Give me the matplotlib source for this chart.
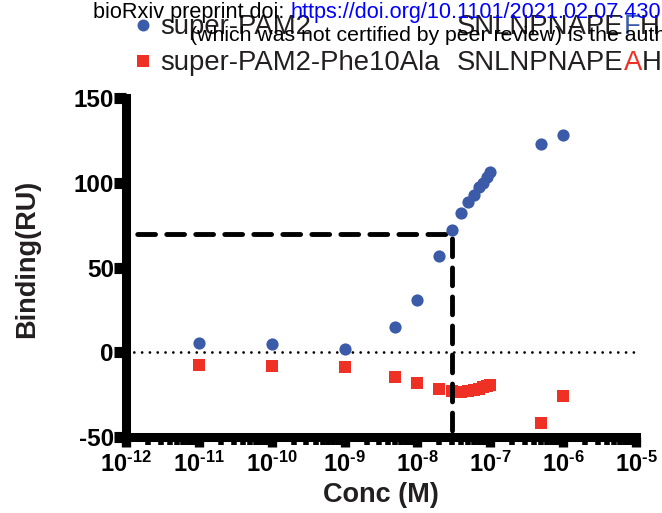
import matplotlib
matplotlib.use("Agg")
import matplotlib.pyplot as plt
from matplotlib.ticker import FixedLocator, FuncFormatter, LogLocator, NullFormatter
import numpy as np

# ---------------- data ----------------
conc = [1e-11, 1e-10, 1e-9, 5e-9, 1e-8, 2e-8, 3e-8, 4e-8, 5e-8, 6e-8,
        7e-8, 8e-8, 9e-8, 1e-7, 5e-7, 1e-6]
binding_pam2 = [5.4, 5.0, 1.9, 15.0, 31.0, 57.0, 72.2, 82.2, 88.5, 93.0,
                97.6, 100.2, 103.6, 106.6, 123.2, 128.5]
binding_phe10ala = [-7.3, -7.8, -8.9, -14.6, -18.2, -21.8, -23.0, -23.2,
                    -22.9, -22.4, -21.6, -20.7, -19.8, -19.0, -42.0, -26.0]
series_names = ["super-PAM2", "super-PAM2-Phe10Ala"]
seq_parts = [[("SNLNPNAPE", "#231F20"), ("F", "#3B5BA8"), ("H", "#231F20")],
             [("SNLNPNAPE", "#231F20"), ("A", "#EE3124"), ("H", "#231F20")]]
half_conc = 3e-8
half_binding = 70
x_ticks = [1e-12, 1e-11, 1e-10, 1e-9, 1e-8, 1e-7, 1e-6, 1e-5]
y_ticks = [-50, 0, 50, 100, 150]
x_label = "Conc (M)"
y_label = "Binding(RU)"
header_black = "bioRxiv preprint doi: "
header_url = "https://doi.org/10.1101/2021.02.07.4301"
header_line2 = "(which was not certified by peer review) is the author/funder"

BLUE = "#3B5BA8"
RED = "#EE3124"
DARK = "#231F20"

plt.rcParams["font.family"] = ["Liberation Sans", "DejaVu Sans"]
plt.rcParams["mathtext.fontset"] = "custom"
plt.rcParams["mathtext.rm"] = "Liberation Sans"
plt.rcParams["mathtext.bf"] = "Liberation Sans:bold"
plt.rcParams["mathtext.it"] = "Liberation Sans:italic"
plt.rcParams["font.weight"] = "bold"
plt.rcParams["axes.unicode_minus"] = False

W, H = 662, 513
fig = plt.figure(figsize=(W / 100, H / 100), dpi=100)
fig.patch.set_facecolor("white")

L, R = 126 / W, 636 / W
B, T = (H - 437) / H, (H - 98.3) / H
ax = fig.add_axes([L, B, R - L, T - B])
ax.set_xscale("log")
ax.set_xlim(x_ticks[0], x_ticks[-1])
ax.set_ylim(y_ticks[0], y_ticks[-1])

# zero line (dotted)
ax.plot([x_ticks[0], x_ticks[-1]], [0, 0], color="black", lw=2.0,
        linestyle=(0, (0.01, 2.8)), dash_capstyle="round", zorder=2)

# red squares
ax.plot(conc, binding_phe10ala, linestyle="none", marker="s", ms=8.6,
        mew=0, color=RED, zorder=3, clip_on=False)
# dashed guide lines
ax.plot([x_ticks[0], half_conc, half_conc], [half_binding, half_binding, y_ticks[0]],
        color="black", lw=3.5, linestyle=(3.66, (3.66, 2.31)),
        dash_capstyle="round", zorder=4)
# blue circles
ax.plot(conc, binding_pam2, linestyle="none", marker="o", ms=8.8,
        mew=0, color=BLUE, zorder=5, clip_on=False)

for s in ["top", "right"]:
    ax.spines[s].set_visible(False)
for s in ["left", "bottom"]:
    ax.spines[s].set_linewidth(6.5)
    ax.spines[s].set_capstyle("projecting")
    ax.spines[s].set_zorder(6)


def xfmt(v, p):
    e = int(round(np.log10(v)))
    sign = "\u2010" if e < 0 else ""
    return r"$\mathbf{10^{%s%d}}$" % (sign, abs(e))


ax.xaxis.set_major_locator(FixedLocator(x_ticks))
ax.xaxis.set_minor_locator(LogLocator(base=10, subs=np.arange(2, 10), numticks=20))
ax.xaxis.set_minor_formatter(NullFormatter())
ax.xaxis.set_major_formatter(FuncFormatter(xfmt))
ax.yaxis.set_major_locator(FixedLocator(y_ticks))

ax.tick_params(axis="y", which="major", length=8.3, width=8, pad=0.5,
               labelsize=17.5, direction="out", colors="black")
ax.tick_params(axis="x", which="major", length=7.2, width=6.7, pad=3.5,
               labelsize=17, direction="out")
ax.tick_params(axis="x", which="minor", length=5.6, width=4, direction="out")
for lbl in ax.get_yticklabels():
    lbl.set_fontweight("bold")

fig.text(27 / W, 1 - 259 / H, y_label, rotation=90, ha="center", va="center",
         fontsize=19.5, fontweight="bold", color=DARK)
fig.text(381 / W, 1 - 495 / H, x_label, ha="center", va="center",
         fontsize=19.5, fontweight="bold", color=DARK)

# overlay for legend / header in pixel coordinates
lax = fig.add_axes([0, 0, 1, 1])
lax.set_xlim(0, W)
lax.set_ylim(H, 0)
lax.axis("off")
lax.patch.set_visible(False)

legend_rows = [(34, "o", BLUE), (70, "s", RED)]
for (base, mk, col), name, parts in zip(legend_rows, series_names, seq_parts):
    lax.plot([142.5], [base - 9], marker=mk, ms=8.6, mew=0, color=col,
             linestyle="none", clip_on=False)
    lax.text(160, base, name, ha="left", va="baseline", fontsize=19.8,
             fontweight="normal", color=DARK)
    prev = lax.text(457, base, parts[0][0], ha="left", va="baseline",
                    fontsize=19.8, fontweight="normal", color=parts[0][1])
    for txt, c in parts[1:]:
        prev = lax.annotate(txt, xy=(1, 0), xycoords=prev, ha="left", va="bottom",
                            fontsize=19.8, fontweight="normal", color=c)

h1 = lax.text(93, 18, header_black, ha="left", va="baseline", fontsize=15.6,
              fontweight="normal", color="black", zorder=10)
lax.annotate(header_url, xy=(1, 0), xycoords=h1, ha="left", va="bottom",
             fontsize=15.6, fontweight="normal", color="#0000FF", zorder=10)
lax.text(190, 41, header_line2, ha="left", va="baseline", fontsize=15.3,
         fontweight="normal", color="black", zorder=10)

fig.savefig("out.png", dpi=100)
